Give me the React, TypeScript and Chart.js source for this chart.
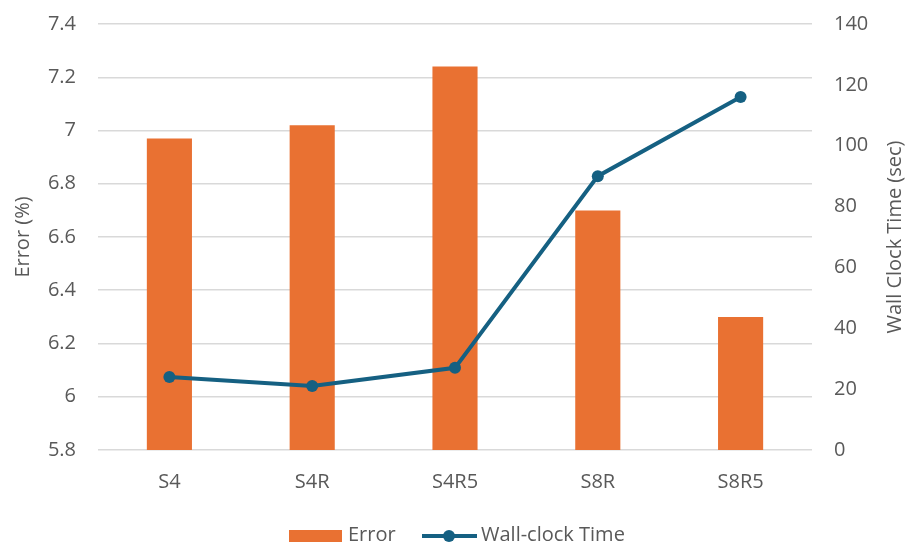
import React, { useEffect, useRef } from "react";
import { Chart, registerables } from "chart.js";

Chart.register(...registerables);

const categories = ["S4", "S4R", "S4R5", "S8R", "S8R5"];
const errorPct = [6.97, 7.02, 7.24, 6.7, 6.3];
const wallClockSec = [24, 21, 27, 90, 116];

const errorTicks = [5.8, 6, 6.2, 6.4, 6.6, 6.8, 7, 7.2, 7.4];
const timeTicks = [0, 20, 40, 60, 80, 100, 120, 140];

const ORANGE = "#E97132";
const BLUE = "#156082";
const TEXT = "#595959";
const GRID = "#D9D9D9";
const FONT = "'Open Sans'";
const FONT_SIZE = 20;

// Axis titles (both read bottom-to-top) and the bottom legend
const decorations = {
  id: "decorations",
  afterDraw(chart: Chart) {
    const { ctx, chartArea } = chart;
    const midY = (chartArea.top + chartArea.bottom) / 2;
    ctx.save();
    ctx.fillStyle = TEXT;
    ctx.font = `${FONT_SIZE}px ${FONT}`;
    ctx.textAlign = "center";
    ctx.textBaseline = "middle";

    ctx.save();
    ctx.translate(23, midY);
    ctx.rotate(-Math.PI / 2);
    ctx.fillText("Error (%)", 0, 0);
    ctx.restore();

    ctx.save();
    ctx.translate(895, midY);
    ctx.rotate(-Math.PI / 2);
    ctx.fillText("Wall Clock Time (sec)", 0, 0);
    ctx.restore();

    // legend
    const ly = 536;
    ctx.fillStyle = ORANGE;
    ctx.fillRect(289, ly - 6, 53, 12);
    ctx.fillStyle = TEXT;
    ctx.textAlign = "left";
    ctx.fillText("Error", 348, ly - 1);

    ctx.strokeStyle = BLUE;
    ctx.lineWidth = 4;
    ctx.beginPath();
    ctx.moveTo(422, ly);
    ctx.lineTo(477, ly);
    ctx.stroke();
    ctx.fillStyle = BLUE;
    ctx.beginPath();
    ctx.arc(449, ly, 6, 0, Math.PI * 2);
    ctx.fill();
    ctx.fillStyle = TEXT;
    ctx.fillText("Wall-clock Time", 481, ly - 1);
    ctx.restore();
  },
};

export default function App() {
  const ref = useRef<HTMLCanvasElement | null>(null);

  useEffect(() => {
    if (!ref.current) return;
    const chart = new Chart(ref.current, {
      type: "bar",
      data: {
        labels: categories,
        datasets: [
          {
            type: "line",
            label: "Wall-clock Time",
            data: wallClockSec,
            yAxisID: "y1",
            borderColor: BLUE,
            backgroundColor: BLUE,
            borderWidth: 4,
            pointRadius: 6,
            pointHoverRadius: 6,
            pointBackgroundColor: BLUE,
            pointBorderWidth: 0,
            tension: 0,
            order: 0,
          },
          {
            type: "bar",
            label: "Error",
            data: errorPct,
            yAxisID: "y",
            backgroundColor: ORANGE,
            categoryPercentage: 1,
            barPercentage: 0.316,
            order: 1,
          },
        ],
      },
      options: {
        animation: false,
        responsive: false,
        layout: { padding: { top: 24, bottom: 44, left: 0, right: 0 } },
        plugins: { legend: { display: false }, tooltip: { enabled: false } },
        scales: {
          x: {
            grid: { display: false, drawTicks: false },
            border: { display: false },
            ticks: {
              color: TEXT,
              font: { family: FONT, size: FONT_SIZE },
              padding: 20,
            },
            afterFit(scale: any) {
              scale.height = 50;
            },
          },
          y: {
            position: "left",
            min: 5.8,
            max: 7.4,
            afterBuildTicks(scale: any) {
              scale.ticks = errorTicks.map((v) => ({ value: v }));
            },
            grid: { color: GRID, lineWidth: 1.5, drawTicks: false },
            border: { display: false },
            ticks: {
              color: TEXT,
              font: { family: FONT, size: FONT_SIZE },
              padding: 22,
              callback: (v: any) => String(Math.round(Number(v) * 10) / 10),
            },
            afterFit(scale: any) {
              scale.width = 98;
              scale.paddingTop = 0;
              scale.paddingBottom = 0;
            },
          },
          y1: {
            position: "right",
            min: 0,
            max: 140,
            afterBuildTicks(scale: any) {
              scale.ticks = timeTicks.map((v) => ({ value: v }));
            },
            grid: { display: false, drawTicks: false },
            border: { display: false },
            ticks: {
              color: TEXT,
              font: { family: FONT, size: FONT_SIZE },
              padding: 22,
            },
            afterFit(scale: any) {
              scale.width = 97;
              scale.paddingTop = 0;
              scale.paddingBottom = 0;
            },
          },
        },
      },
      plugins: [decorations],
    });
    return () => chart.destroy();
  }, []);

  return (
    <div style={{ position: "fixed", left: 0, top: 0, width: 909, height: 544, background: "#fff" }}>
      <canvas ref={ref} width={909} height={544} style={{ width: 909, height: 544 }} />
    </div>
  );
}
